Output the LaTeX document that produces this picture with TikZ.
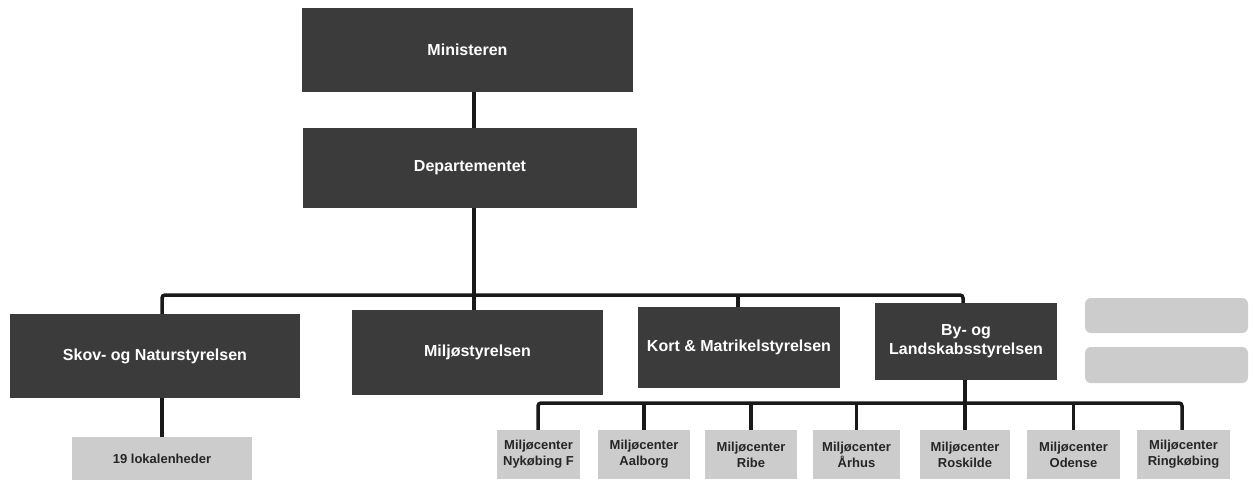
\documentclass[tikz,border=0pt]{standalone}
\usepackage{fontspec}
\setmainfont{Liberation Sans}
\begin{document}
\begin{tikzpicture}[x=1pt,y=-1pt,
  darkbox/.style={draw=none, fill=black!77, text=white, font=\bfseries\fontsize{16}{19}\selectfont, align=center, inner sep=1pt},
  palebox/.style={draw=none, fill=black!20, text=black!85, font=\bfseries\fontsize{13}{16}\selectfont, align=center, inner sep=1pt},
  conn/.style={line width=3.5pt, black!90, rounded corners=3pt}]
\useasboundingbox (0,0) rectangle (1255,479);
\fill[white] (0,0) rectangle (1255,479);
% top level
\node[darkbox, minimum width=331pt, minimum height=84pt] (min) at (467.5,50) {Ministeren};
\node[darkbox, minimum width=334pt, minimum height=80pt] (dep) at (470,168) {Departementet};
% second level
\node[darkbox, minimum width=290pt, minimum height=84pt] (skov) at (155,356) {Skov- og Naturstyrelsen};
\node[darkbox, minimum width=251pt, minimum height=85pt] (milj) at (477.5,352.5) {Miljøstyrelsen};
\node[darkbox, minimum width=202pt, minimum height=81pt] (kort) at (739,347.5) {Kort \& Matrikelstyrelsen};
\node[darkbox, minimum width=182pt, minimum height=77pt] (by) at (966,341.5) {By- og\\Landskabsstyrelsen};
% right pale boxes
\node[palebox, minimum width=163pt, minimum height=35pt, rounded corners=6pt] (r1) at (1166.5,315.5) {};
\node[palebox, minimum width=163pt, minimum height=36pt, rounded corners=6pt] (r2) at (1166.5,365) {};
% third level
\node[palebox, minimum width=180pt, minimum height=44pt] (lok) at (162,459) {19 lokalenheder};
\node[palebox, minimum width=83pt, minimum height=49pt] (nyk) at (538.5,454.5) {Miljøcenter\\Nykøbing F};
\node[palebox, minimum width=92pt, minimum height=49pt] (aal) at (644,454.5) {Miljøcenter\\Aalborg};
\node[palebox, minimum width=92pt, minimum height=49pt] (ribe) at (751,454.5) {Miljøcenter\\Ribe};
\node[palebox, minimum width=87pt, minimum height=49pt] (arh) at (856.5,454.5) {Miljøcenter\\Århus};
\node[palebox, minimum width=90pt, minimum height=49pt] (ros) at (965,454.5) {Miljøcenter\\Roskilde};
\node[palebox, minimum width=93pt, minimum height=49pt] (ode) at (1073.5,454.5) {Miljøcenter\\Odense};
\node[palebox, minimum width=93pt, minimum height=49pt] (rin) at (1183.5,454.5) {Miljøcenter\\Ringkøbing};
% coordinates
\coordinate (bus) at (474,295);
\coordinate (b1) at (162,295);
\coordinate (b2) at (963,295);
\coordinate (bk) at (738,295);
\coordinate (m1) at (538,403);
\coordinate (m7) at (1182,403);
% connectors
\draw[conn] (min.south -| bus) -- (dep.north -| bus);
\draw[conn] (dep.south -| bus) -- (milj.north -| bus);
\draw[conn] (skov.north -| b1) -- (b1) -- (b2) -- (by.north -| b2);
\draw[conn] (bk) -- (kort.north -| bk);
\draw[conn] (skov.south -| lok.north) -- (lok.north);
\draw[conn] (nyk.north -| m1) -- (m1) -- (m7) -- (rin.north -| m7);
\draw[conn] (by.south -| ros.north) -- (ros.north);
\draw[conn] (aal.north |- m1) -- (aal.north);
\draw[conn] (ribe.north |- m1) -- (ribe.north);
\draw[conn] (arh.north |- m1) -- (arh.north);
\draw[conn] (ode.north |- m1) -- (ode.north);
\end{tikzpicture}
\end{document}
